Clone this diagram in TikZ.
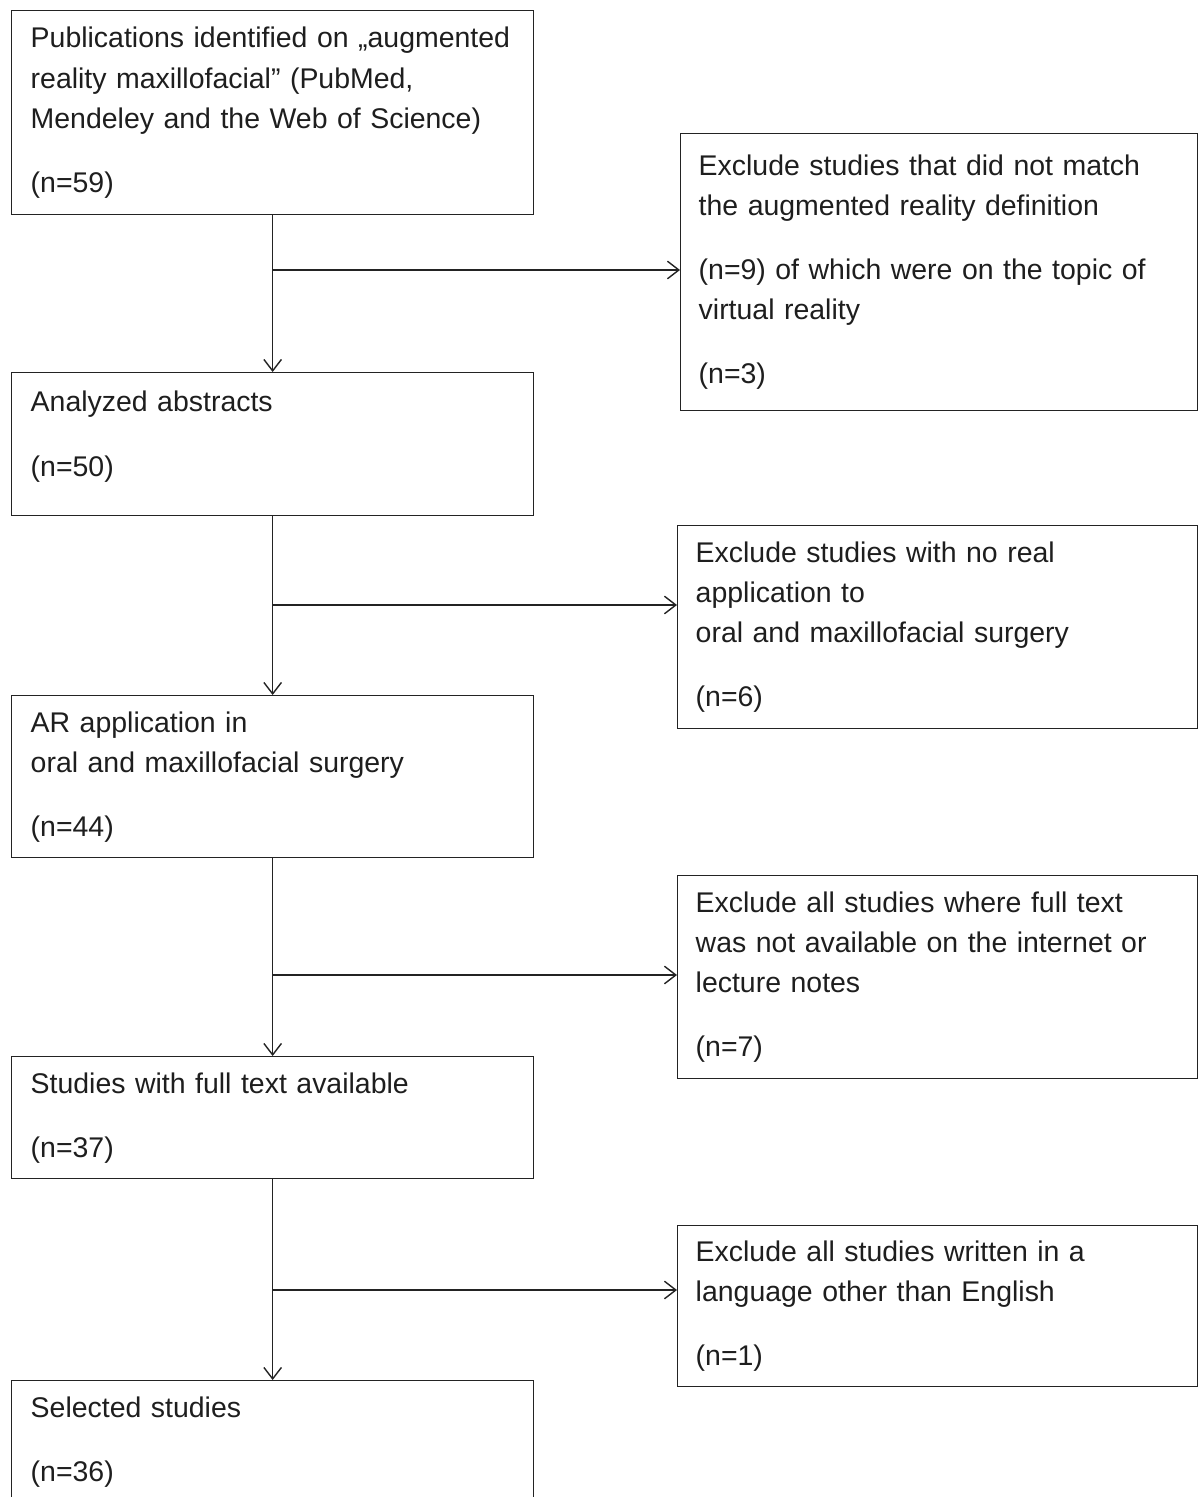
\documentclass[tikz,border=0pt]{standalone}
\usepackage{fontspec}
\setmainfont{Liberation Sans}
\usetikzlibrary{arrows.meta}
\definecolor{flowline}{RGB}{35, 35, 35}
\definecolor{flowtext}{RGB}{30, 30, 30}

\tikzset{
  stagebox/.style={draw=flowline, line width=0.8pt, anchor=north west,
    align=left, text=flowtext, inner xsep=0.38cm, inner ysep=0.2cm,
    text width=9.68cm, minimum width=10.44cm,
    font=\fontsize{16.2pt}{22.8pt}\selectfont},
  excludebox/.style={stagebox, inner xsep=0.36cm, minimum width=10.40cm},
  flowarrow/.style={draw=flowline, line width=0.8pt,
    -{Straight Barb[length=6.5pt, width=10pt]}}
}

\begin{document}
\begin{tikzpicture}[x=0.02cm, y=-0.02cm]
    \useasboundingbox (0, 0) rectangle (1198, 1497);

    % main stages (left column)
    \node[stagebox, minimum height=4.08cm] (ident) at (11, 10) {
      Publications identified on „augmented\\
      reality maxillofacial” (PubMed,\\
      Mendeley and the Web of Science)\\[0.48cm]
      (n=59)
    };
    \node[stagebox, minimum height=2.86cm] (abstr) at (11, 372) {
      Analyzed abstracts\\[0.48cm]
      (n=50)\rule[-0.42cm]{0pt}{0pt}
    };
    \node[stagebox, minimum height=3.24cm] (appl) at (11, 695) {
      AR application in\\
      oral and maxillofacial surgery\\[0.48cm]
      (n=44)
    };
    \node[stagebox, minimum height=2.44cm] (full) at (11, 1056) {
      Studies with full text available\\[0.48cm]
      (n=37)
    };
    \node[stagebox, minimum height=2.44cm] (select) at (11, 1380) {
      Selected studies\\[0.48cm]
      (n=36)
    };

    % exclusions (right column)
    \node[excludebox, minimum width=10.34cm, text width=9.62cm,
          minimum height=5.54cm] (exdef) at (680, 133) {
      Exclude studies that did not match\\
      the augmented reality definition\\[0.48cm]
      (n=9) of which were on the topic of\\
      virtual reality\\[0.48cm]
      (n=3)
    };
    \node[excludebox, minimum height=4.06cm] (exapp) at (677, 525) {
      Exclude studies with no real\\
      application to\\
      oral and maxillofacial surgery\\[0.48cm]
      (n=6)
    };
    \node[excludebox, minimum height=4.06cm] (exfull) at (677, 875) {
      Exclude all studies where full text\\
      was not available on the internet or\\
      lecture notes\\[0.48cm]
      (n=7)
    };
    \node[excludebox, minimum height=3.22cm] (exlang) at (677, 1225) {
      Exclude all studies written in a\\
      language other than English\\[0.48cm]
      (n=1)
    };

    % branch points on the main line
    \coordinate (br1) at (272, 270);
    \coordinate (br2) at (272, 605);
    \coordinate (br3) at (272, 975);
    \coordinate (br4) at (272, 1290);

    \draw[flowarrow] (ident.south) -- (abstr.north);
    \draw[flowarrow] (abstr.south) -- (appl.north);
    \draw[flowarrow] (appl.south) -- (full.north);
    \draw[flowarrow] (full.south) -- (select.north);

    \draw[flowarrow] (br1) -- (br1 -| exdef.west);
    \draw[flowarrow] (br2) -- (br2 -| exapp.west);
    \draw[flowarrow] (br3) -- (br3 -| exfull.west);
    \draw[flowarrow] (br4) -- (br4 -| exlang.west);
\end{tikzpicture}
\end{document}
